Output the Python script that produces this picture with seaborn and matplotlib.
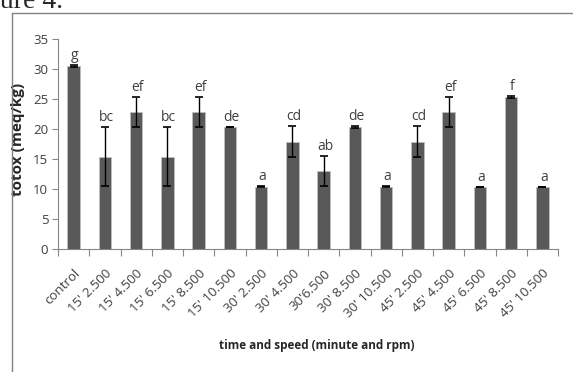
import numpy as np
import pandas as pd
import seaborn as sns
import matplotlib.pyplot as plt
from matplotlib.lines import Line2D
from matplotlib.ticker import FixedLocator, NullFormatter

# Data
treatments = ["control",
              "15' 2.500", "15' 4.500", "15' 6.500", "15' 8.500", "15' 10.500",
              "30' 2.500", "30' 4.500", "30'6.500", "30' 8.500", "30' 10.500",
              "45' 2.500", "45' 4.500", "45' 6.500", "45' 8.500", "45' 10.500"]
totox = [30.5, 15.4, 22.8, 15.4, 22.8, 20.4, 10.4, 17.9, 13.0, 20.3, 10.4,
         17.9, 22.8, 10.4, 25.3, 10.4]
sd = [0.15, 4.95, 2.55, 4.95, 2.55, 0.0, 0.15, 2.55, 2.55, 0.15, 0.15,
      2.55, 2.55, 0.0, 0.15, 0.0]
letters = ["g", "bc", "ef", "bc", "ef", "de", "a", "cd", "ab", "de", "a",
           "cd", "ef", "a", "f", "a"]

df = pd.DataFrame({"treatment": treatments, "totox": totox, "sd": sd})

sns.set_style("white")
plt.rcParams['font.family'] = ['Open Sans', 'DejaVu Sans']

fig = plt.figure(figsize=(5.73, 3.72), dpi=100)
ax = fig.add_axes([58 / 573, 1 - 249 / 372, 500 / 573, 210 / 372])

sns.barplot(data=df, x="treatment", y="totox", color="#595959",
            saturation=1, width=0.4, edgecolor="#bfbfbf", linewidth=0.6,
            errorbar=None, ax=ax)
ax.errorbar(np.arange(len(df)), df.totox, yerr=df.sd, fmt="none",
            ecolor="black", elinewidth=1, capsize=3.2, capthick=1.2)

for i, (v, e, lab) in enumerate(zip(totox, sd, letters)):
    ax.annotate(lab, (i, v + e), xytext=(1, 1.5), textcoords="offset points",
                ha="center", va="bottom", fontsize=10, color="#404040")

ax.set_ylim(0, 35)
ax.set_yticks(range(0, 36, 5))
ax.set_xlim(-0.5, len(df) - 0.5)
ax.set_xticks(range(len(df)))
ax.set_xticklabels(treatments, rotation=45, ha="right",
                   rotation_mode="anchor", fontsize=9.5, color="#404040")
ax.xaxis.set_minor_locator(FixedLocator(np.arange(-0.5, len(df), 1)))
ax.xaxis.set_minor_formatter(NullFormatter())
ax.tick_params(axis="x", which="major", length=0, pad=13)
ax.tick_params(axis="x", which="minor", length=5, color="#868686", width=0.8)
ax.tick_params(axis="y", length=4, color="#868686", width=0.8,
               labelsize=9.5, labelcolor="#404040", pad=3)
ax.yaxis.set_ticks_position("left")
ax.xaxis.set_ticks_position("bottom")
for s in ["top", "right"]:
    ax.spines[s].set_visible(False)
for s in ["left", "bottom"]:
    ax.spines[s].set_color("#868686")
    ax.spines[s].set_linewidth(0.8)

ax.set_xlabel("")
ax.set_ylabel("totox (meq/kg)", fontsize=11, fontweight="bold")
ax.yaxis.set_label_coords(-33 / 500, 0.524)
fig.text(317 / 573, 1 - 345 / 372, "time and speed (minute and rpm)",
         ha="center", va="center", fontsize=8.5, fontweight="bold")

# document frame and caption fragment
fig.add_artist(Line2D([12 / 573, 12 / 573], [0, 1 - 13 / 372],
                      color="#808080", lw=1))
fig.add_artist(Line2D([12 / 573, 1], [1 - 13 / 372, 1 - 13 / 372],
                      color="#808080", lw=1))
fig.text(-14 / 573, 1 - 8 / 372, "gure 4.", ha="left", va="baseline",
         fontsize=20, family="Liberation Serif")

fig.savefig("out.png", dpi=100)
